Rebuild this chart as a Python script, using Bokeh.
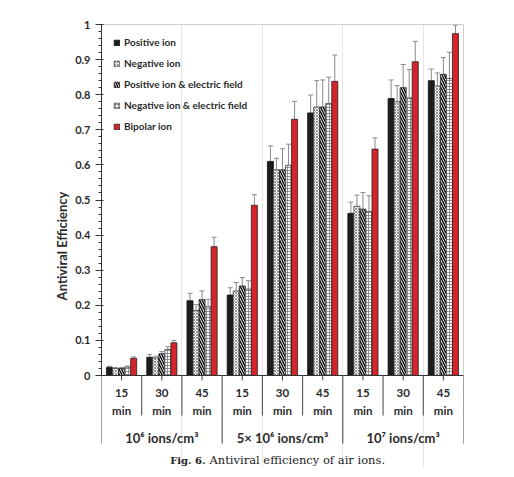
from bokeh.plotting import figure
from bokeh.models import (Range1d, SingleIntervalTicker, CustomJSTickFormatter,
                          ColumnDataSource, Whisker, TeeHead, Title)
from bokeh.core.properties import value
from bokeh.embed import file_html
from bokeh.resources import INLINE

# ---------------- data ----------------
times = ["15", "30", "45", "15", "30", "45", "15", "30", "45"]
time_unit = "min"
groups = ["10⁶ ions/cm³", "5× 10⁶ ions/cm³", "10⁷ ions/cm³"]
series_names = ["Positive ion", "Negative ion", "Positive ion & electric field",
                "Negative ion & electric field", "Bipolar ion"]

positive = [0.023, 0.052, 0.213, 0.229, 0.610, 0.748, 0.462, 0.789, 0.840]
negative = [0.020, 0.050, 0.185, 0.241, 0.586, 0.765, 0.482, 0.780, 0.825]
positive_ef = [0.020, 0.062, 0.216, 0.255, 0.586, 0.765, 0.474, 0.820, 0.858]
negative_ef = [0.024, 0.074, 0.196, 0.246, 0.599, 0.775, 0.467, 0.791, 0.846]
bipolar = [0.049, 0.093, 0.367, 0.485, 0.730, 0.838, 0.645, 0.894, 0.974]

positive_err = [0.003, 0.008, 0.021, 0.021, 0.044, 0.051, 0.032, 0.053, 0.033]
negative_err = [0.003, 0.005, 0.017, 0.024, 0.033, 0.075, 0.032, 0.046, 0.037]
positive_ef_err = [0.003, 0.006, 0.025, 0.024, 0.060, 0.077, 0.047, 0.066, 0.048]
negative_ef_err = [0.003, 0.008, 0.021, 0.024, 0.060, 0.075, 0.045, 0.081, 0.075]
bipolar_err = [0.004, 0.007, 0.027, 0.030, 0.051, 0.075, 0.032, 0.058, 0.024]

caption_bold = "Fig. 6."
caption_rest = "Antiviral efficiency of air ions."
y_label = "Antiviral Efficiency"

# ---------------- styling ----------------
FONT = "Lato"
TXT = "#2b2b2b"
n_cat = len(times)
y_bottom = -0.2621

p = figure(width=504, height=467, output_backend="svg", toolbar_location=None,
           x_range=Range1d(0, n_cat), y_range=Range1d(y_bottom, 1.0),
           x_axis_location=None, min_border_left=101, min_border_right=41,
           min_border_top=24, min_border_bottom=0)
p.outline_line_color = None
p.ygrid.visible = False
p.background_fill_color = "white"
p.border_fill_color = "white"

yax = p.yaxis[0]
yax.bounds = (0, 1)
yax.ticker = SingleIntervalTicker(interval=0.1, num_minor_ticks=5)
yax.formatter = CustomJSTickFormatter(code="return String(Number(tick.toFixed(1)))")
yax.axis_line_color = "#333333"
yax.major_tick_line_color = "#333333"
yax.minor_tick_line_color = "#333333"
yax.major_tick_out = 6
yax.major_tick_in = 2
yax.minor_tick_out = 3
yax.minor_tick_in = 0
yax.major_label_text_font = FONT
yax.major_label_text_font_style = "bold"
yax.major_label_text_font_size = "11px"
yax.major_label_text_color = TXT
yax.major_label_standoff = 5

# y-axis title, shifted up so it is centred on the 0..1 span
p.add_layout(Title(text=y_label, align="center", offset=40, standoff=6,
                   text_font=FONT, text_font_style="bold", text_font_size="13px",
                   text_color=TXT), "left")

# bars
series = [positive, negative, positive_ef, negative_ef, bipolar]
errors = [positive_err, negative_err, positive_ef_err, negative_ef_err, bipolar_err]
styles = [
    dict(fill_color="#1c1c1c", line_color="#111111"),
    dict(fill_color="white", line_color="#444444", hatch_pattern="diagonal_cross",
         hatch_color="#777777", hatch_scale=3, hatch_weight=0.8),
    dict(fill_color="white", line_color="#222222", hatch_pattern="left_diagonal_line",
         hatch_color="#111111", hatch_scale=5, hatch_weight=1.5),
    dict(fill_color="white", line_color="#444444", hatch_pattern="cross",
         hatch_color="#777777", hatch_scale=3, hatch_weight=0.8),
    dict(fill_color="#d7232a", line_color="#222222"),
]
bw = 0.15
for k, (vals, errs, name, st) in enumerate(zip(series, errors, series_names, styles)):
    xs = [i + 0.5 + (k - 2) * bw for i in range(n_cat)]
    src = ColumnDataSource(dict(x=xs, top=vals,
                                upper=[v + e for v, e in zip(vals, errs)]))
    p.vbar(x="x", top="top", bottom=0, width=bw, source=src, line_width=0.8,
           legend_label=name, **st)
    w = Whisker(base="x", lower="top", upper="upper", source=src, dimension="height",
                line_color="#8a8a8a", line_width=1,
                upper_head=TeeHead(size=5, line_color="#8a8a8a", line_width=1),
                lower_head=None)
    p.add_layout(w)

# frame: top & right grey border
p.segment(x0=[0], y0=[1.0], x1=[n_cat], y1=[1.0], line_color="#9a9a9a", line_width=1)
p.segment(x0=[n_cat], y0=[0], x1=[n_cat], y1=[1.0], line_color="#9a9a9a", line_width=1)
# baseline
p.segment(x0=[0], y0=[0], x1=[n_cat], y1=[0], line_color="#333333", line_width=1)

# category table below the axis
div_short = -0.114
div_long = -0.194
bx = [i for i in range(n_cat + 1)]
p.segment(x0=bx, y0=[0] * len(bx), x1=bx,
          y1=[div_long if i % 3 == 0 else div_short for i in bx],
          line_color="#444444", line_width=1)
cx = [i + 0.5 for i in range(n_cat)]
p.segment(x0=cx, y0=[0] * n_cat, x1=cx, y1=[-0.014] * n_cat,
          line_color="#444444", line_width=1)
p.text(x=cx, y=[-0.05] * n_cat, text=times, text_font=value(FONT),
       text_font_style="bold", text_font_size="11.5px", text_align="center",
       text_baseline="middle", text_color=TXT)
p.text(x=cx, y=[-0.10] * n_cat, text=[time_unit] * n_cat, text_font=value(FONT),
       text_font_style="bold", text_font_size="11.5px", text_align="center",
       text_baseline="middle", text_color=TXT)
gx = [3 * g + 1.5 for g in range(len(groups))]
p.text(x=gx, y=[-0.178] * len(groups), text=groups, text_font=value(FONT),
       text_font_style="bold", text_font_size="13px", text_align="center",
       text_baseline="middle", text_color=TXT)

# caption
p.text(x=[2.586], y=[-0.242], text=[caption_bold], text_font=value("DejaVu Serif"),
       text_font_style="bold", text_font_size="10px", text_align="right",
       text_baseline="middle", text_color="#222222")
p.text(x=[2.685], y=[-0.242], text=[caption_rest], text_font=value("DejaVu Serif"),
       text_font_size="11.5px", text_align="left",
       text_baseline="middle", text_color="#222222")

# legend
lg = p.legend[0]
lg.location = "top_left"
lg.margin = 12
lg.padding = 0
lg.spacing = 9
lg.label_height = 12
lg.glyph_width = 7
lg.glyph_height = 7
lg.label_standoff = 4
lg.label_text_font = FONT
lg.label_text_font_style = "bold"
lg.label_text_font_size = "10px"
lg.label_text_color = TXT
lg.background_fill_alpha = 0
lg.border_line_color = None

open("out.html", "w").write(file_html(p, INLINE))
